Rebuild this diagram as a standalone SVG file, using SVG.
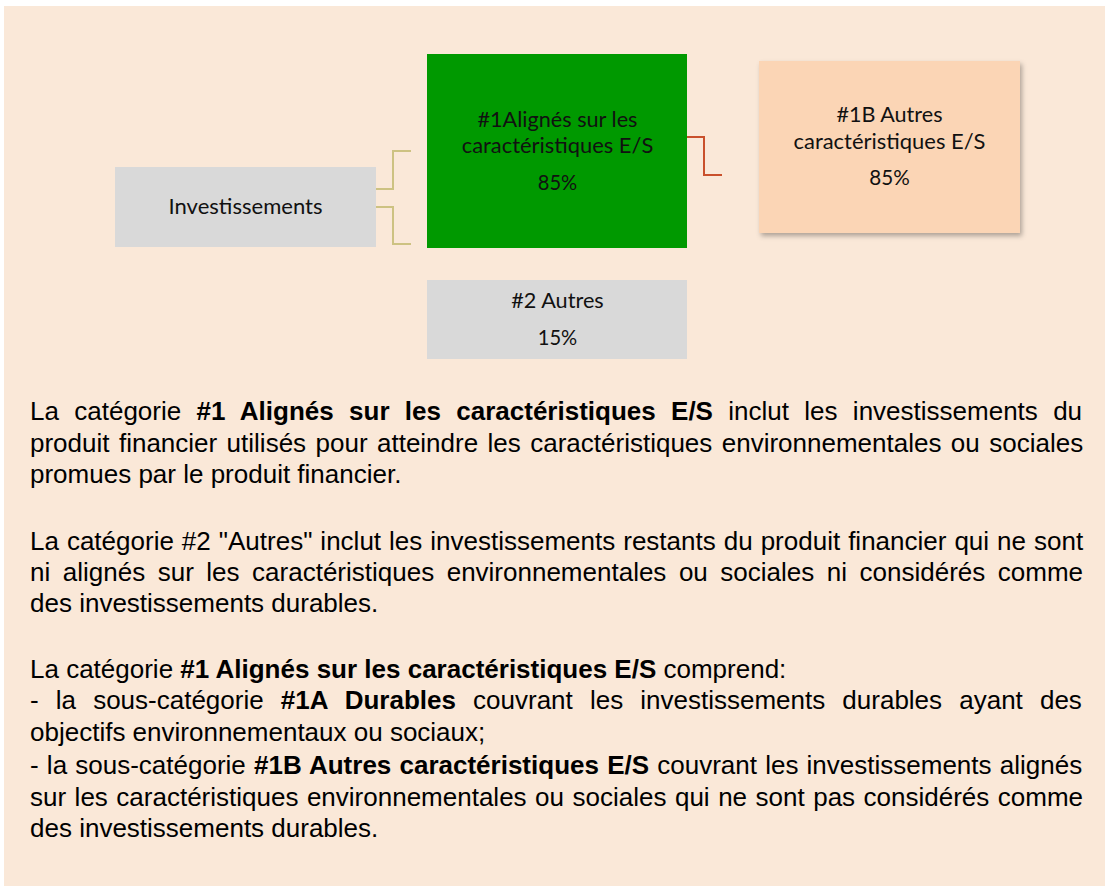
<svg xmlns="http://www.w3.org/2000/svg" width="1105" height="886" viewBox="0 0 1105 886">
<style>
.box{font-family:Lato,"Open Sans","Liberation Sans",sans-serif;font-size:21.5px;fill:#111;text-anchor:middle}
.body{font-family:"Liberation Sans",Arial,sans-serif;font-size:26px;fill:#000}
.b{font-weight:bold}
.tan{fill:none;stroke:#cdc282;stroke-width:2}
.red{fill:none;stroke:#c9502c;stroke-width:2}
</style>
<defs>
<filter id="sh" x="-10%" y="-10%" width="125%" height="125%">
<feDropShadow dx="2" dy="3" stdDeviation="2.5" flood-color="#000" flood-opacity="0.3"/>
</filter>
</defs>
<rect x="4" y="6" width="1101" height="880" fill="#fae8d8"/>
<g id="connectors">
<polyline class="tan" points="376,189 393,189 393,151 411,151"/>
<polyline class="tan" points="376,207 393,207 393,244 411,244"/>
<polyline class="red" points="687,137 704,137 704,175 722,175"/>
</g>
<g id="investissements">
<rect x="115" y="167" width="261" height="80" fill="#d9d9d9"/>
<text class="box" x="245.5" y="214" textLength="154" lengthAdjust="spacingAndGlyphs">Investissements</text>
</g>
<g id="alignes">
<rect x="427" y="54" width="260" height="194" fill="#009900"/>
<text class="box" x="557.5" y="126.7" textLength="160" lengthAdjust="spacingAndGlyphs">#1Alignés sur les</text>
<text class="box" x="557.5" y="152.7" textLength="191.5" lengthAdjust="spacingAndGlyphs">caractéristiques E/S</text>
<text class="box" x="557.5" y="190" textLength="39.5" lengthAdjust="spacingAndGlyphs">85%</text>
</g>
<g id="autres">
<rect x="427" y="280" width="260" height="79" fill="#d9d9d9"/>
<text class="box" x="557.5" y="308.3" textLength="92.5" lengthAdjust="spacingAndGlyphs">#2 Autres</text>
<text class="box" x="557.5" y="345" textLength="39.5" lengthAdjust="spacingAndGlyphs">15%</text>
</g>
<g id="autres-caracteristiques">
<rect x="759" y="61" width="261" height="172" fill="#fbd5b5" filter="url(#sh)"/>
<text class="box" x="889.5" y="122.3" textLength="106" lengthAdjust="spacingAndGlyphs">#1B Autres</text>
<text class="box" x="889.5" y="149" textLength="192" lengthAdjust="spacingAndGlyphs">caractéristiques E/S</text>
<text class="box" x="889.5" y="185" textLength="40.5" lengthAdjust="spacingAndGlyphs">85%</text>
</g>
<g id="texte">
<text class="body" x="30" y="420" word-spacing="8.1">La catégorie <tspan class="b">#1 Alignés sur les caractéristiques E/S</tspan> inclut les investissements du</text>
<text class="body" x="30" y="452" word-spacing="2.2">produit financier utilisés pour atteindre les caractéristiques environnementales ou sociales</text>
<text class="body" x="30" y="483">promues par le produit financier.</text>
<text class="body" x="30" y="550" word-spacing="0.77">La catégorie #2 "Autres" inclut les investissements restants du produit financier qui ne sont</text>
<text class="body" x="30" y="581" word-spacing="5.3">ni alignés sur les caractéristiques environnementales ou sociales ni considérés comme</text>
<text class="body" x="30" y="612">des investissements durables.</text>
<text class="body" x="30" y="678">La catégorie <tspan class="b">#1 Alignés sur les caractéristiques E/S</tspan> comprend:</text>
<text class="body" x="30" y="709" word-spacing="9.9">- la sous-catégorie <tspan class="b">#1A Durables</tspan> couvrant les investissements durables ayant des</text>
<text class="body" x="30" y="741">objectifs environnementaux ou sociaux;</text>
<text class="body" x="30" y="774" word-spacing="0.97">- la sous-catégorie <tspan class="b">#1B Autres caractéristiques E/S</tspan> couvrant les investissements alignés</text>
<text class="body" x="30" y="806" word-spacing="1.27">sur les caractéristiques environnementales ou sociales qui ne sont pas considérés comme</text>
<text class="body" x="30" y="837">des investissements durables.</text>
</g>
</svg>
